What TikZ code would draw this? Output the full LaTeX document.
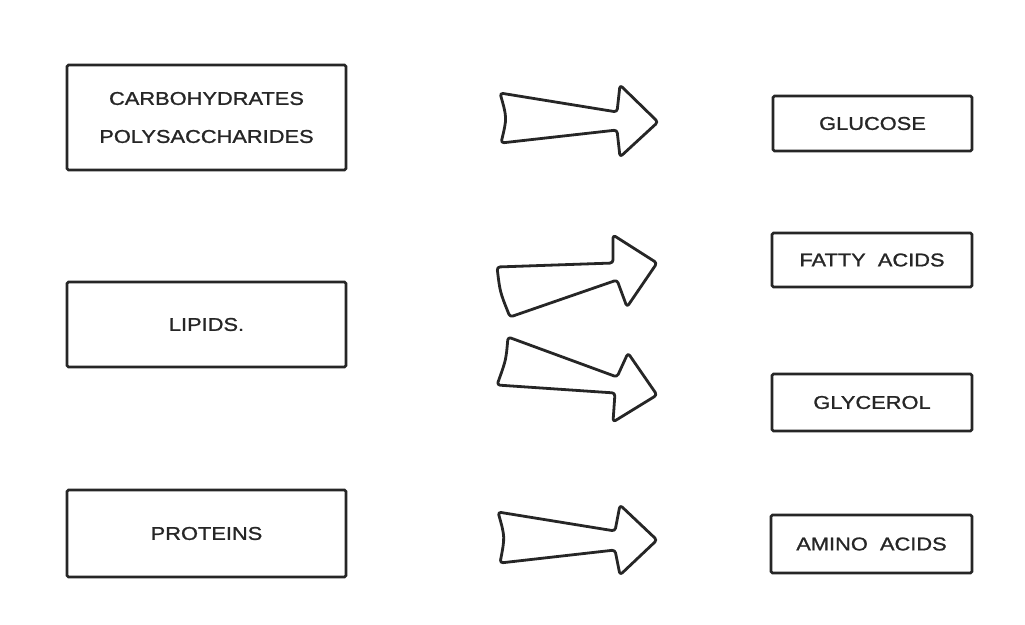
\documentclass[tikz,border=0pt]{standalone}
\usepackage{fontspec}
\setmainfont{Liberation Sans}[FakeStretch=1.18,FakeBold=1.2]
\begin{document}
\begin{tikzpicture}[x=1pt,y=-1pt,
  box/.style={draw=black!85, line width=2.6pt, rounded corners=1.5pt, inner sep=0pt,
    align=center, font=\fontsize{18.5}{38}\selectfont, text=black!85},
  bigarrow/.style={draw=black!85, line width=2.8pt, line join=round, rounded corners=3pt}]
\useasboundingbox (0,0) rectangle (1025,624);
% source boxes
\node[box, minimum width=279pt, minimum height=105pt] (carb) at (206.5,117.5)
  {CARBOHYDRATES\\POLYSACCHARIDES};
\node[box, minimum width=279pt, minimum height=85pt] (lip) at (206.5,324.5) {LIPIDS.};
\node[box, minimum width=279pt, minimum height=87pt] (prot) at (206.5,533.5) {PROTEINS};
% product boxes
\node[box, minimum width=199pt, minimum height=55pt] (gluc) at (872.5,123.5) {GLUCOSE};
\node[box, minimum width=200pt, minimum height=54pt] (fatty) at (872,260) {FATTY\ \ ACIDS};
\node[box, minimum width=200pt, minimum height=57pt] (glyc) at (872,402.5) {GLYCEROL};
\node[box, minimum width=201pt, minimum height=58pt] (amino) at (871.5,544) {AMINO\ \ ACIDS};
% block arrows
\draw[bigarrow] (501,143) .. controls (507,118) .. (500,93) -- (617,112) -- (620,85)
  -- (658,122) -- (620,157) -- (617,130) -- cycle;
\draw[bigarrow] (510,317) .. controls (500,292) .. (497,267) -- (613,263) -- (613,235)
  -- (657,263) -- (627,307) -- (617,280) -- cycle;
\draw[bigarrow] (497,385) .. controls (506,360) .. (508,337) -- (617,377) -- (628,353)
  -- (657,395) -- (613,422) -- (615,393) -- cycle;
\draw[bigarrow] (500,563) .. controls (505,537) .. (498,512) -- (615,531) -- (620,505)
  -- (657,540) -- (620,575) -- (615,550) -- cycle;
\end{tikzpicture}
\end{document}
